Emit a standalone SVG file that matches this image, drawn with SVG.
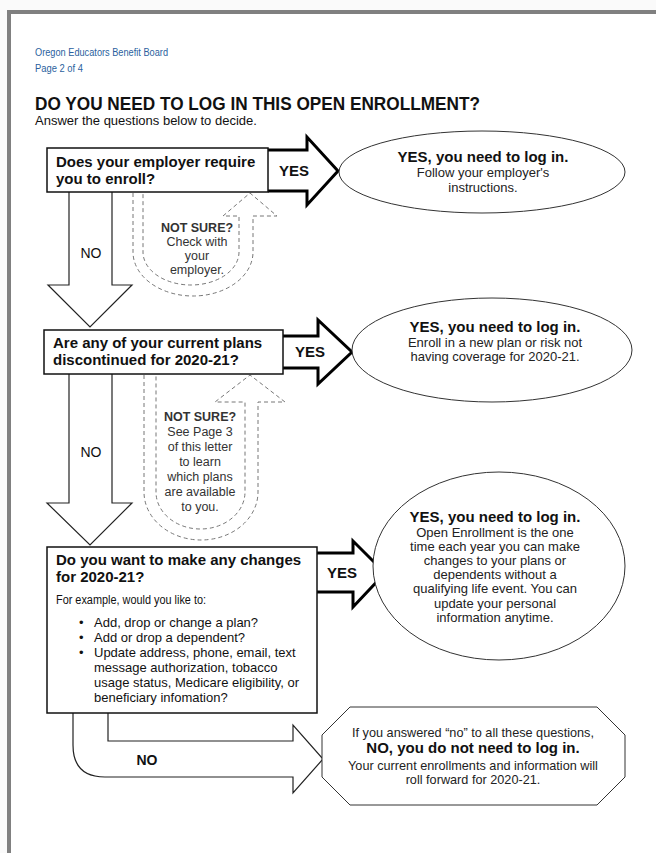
<svg xmlns="http://www.w3.org/2000/svg" width="656" height="853" viewBox="0 0 656 853">
<style>
text{font-family:"Liberation Sans",Arial,sans-serif;fill:#111}
.hdr{font-size:10.5px;fill:#2b5f9e}
.q{font-size:15px;font-weight:bold}
.body{font-size:13px}
.yes{font-size:15px;font-weight:bold;text-anchor:middle}
.no{font-size:14px;text-anchor:middle}
.et{font-size:15px;font-weight:bold;text-anchor:middle}
.eb{font-size:13px;text-anchor:middle;fill:#222}
.ob{font-size:12.7px;text-anchor:middle;fill:#222}
.ns{font-size:12.5px;text-anchor:middle;fill:#333}
.box{fill:#fff;stroke:#111;stroke-width:1.5}
.yarrow{fill:#fff;stroke:#000;stroke-width:3;stroke-linejoin:miter}
.narrow{fill:#fff;stroke:#222;stroke-width:1.2}
.dash{fill:none;stroke:#777;stroke-width:1;stroke-dasharray:4 3}
.ell{fill:#fff;stroke:#333;stroke-width:1}
</style>
<rect x="0" y="0" width="656" height="853" fill="#fafafa"/>
<rect x="9" y="12" width="647" height="841" fill="#fff"/>
<rect x="7" y="10" width="649" height="4" fill="#808080"/>
<rect x="7" y="10" width="4" height="843" fill="#808080"/>

<g id="header">
<text class="hdr" x="35" y="56" textLength="133" lengthAdjust="spacingAndGlyphs">Oregon Educators Benefit Board</text>
<text class="hdr" x="35" y="72" textLength="48" lengthAdjust="spacingAndGlyphs">Page 2 of 4</text>
<text x="35" y="110" font-size="18" font-weight="bold" textLength="445" lengthAdjust="spacingAndGlyphs">DO YOU NEED TO LOG IN THIS OPEN ENROLLMENT?</text>
<text x="35" y="125" font-size="13">Answer the questions below to decide.</text>
</g>

<g id="connectors">
<path class="yarrow" d="M268,150 H307 V137 L338,171 L307,205 V191 H268"/>
<text class="yes" x="294" y="176">YES</text>
<path class="yarrow" d="M283,336 H318 V320 L352,352 L318,384 V368 H283"/>
<text class="yes" x="310" y="357">YES</text>
<path class="yarrow" d="M317,553 H353 V541 L385,573 L353,607 V592 H317"/>
<text class="yes" x="342" y="578">YES</text>
<path class="narrow" d="M69,192 V285 H48 L90,327 L132,285 H112 V192"/>
<text class="no" x="91" y="258">NO</text>
<path class="narrow" d="M69,374 V503 H47 L90,545 L132,503 H112 V374"/>
<text class="no" x="91" y="457">NO</text>
<path class="narrow" d="M73,713 V745 Q73,777 105,777 H293 V793 L323,759 L293,725 V741 H108 V713"/>
<text x="147" y="765" font-size="14" font-weight="bold" text-anchor="middle">NO</text>
<path class="dash" d="M133,193 V252 A60,44 0 0 0 253,252 V216 H277 L250,193 L223,216 H239 V252 A48,33 0 0 1 143,252 V193"/>
<text class="ns" x="197" y="232" font-weight="bold">NOT SURE?</text>
<text class="ns" x="197" y="246">Check with</text>
<text class="ns" x="197" y="260">your</text>
<text class="ns" x="197" y="274">employer.</text>
<path class="dash" d="M144,375 V492 A57,48 0 0 0 258,492 V402 H285 L250,375 L215,402 H245 V492 A44.5,37 0 0 1 156,492 V375"/>
<text class="ns" x="200" y="421" font-weight="bold">NOT SURE?</text>
<text class="ns" x="200" y="436">See Page 3</text>
<text class="ns" x="200" y="451">of this letter</text>
<text class="ns" x="200" y="466">to learn</text>
<text class="ns" x="200" y="481">which plans</text>
<text class="ns" x="200" y="496">are available</text>
<text class="ns" x="200" y="511">to you.</text>
</g>

<g id="q1">
<rect class="box" x="47" y="148" width="221" height="44"/>
<text class="q" x="56" y="167">Does your employer require</text>
<text class="q" x="56" y="184">you to enroll?</text>
</g>

<g id="q2">
<rect class="box" x="44" y="330" width="239" height="44"/>
<text class="q" x="53" y="348">Are any of your current plans</text>
<text class="q" x="53" y="365">discontinued for 2020-21?</text>
</g>

<g id="q3">
<rect class="box" x="47" y="547" width="270" height="166"/>
<text class="q" x="56" y="565">Do you want to make any changes</text>
<text class="q" x="56" y="582">for 2020-21?</text>
<text x="56" y="604" font-size="12" textLength="150" lengthAdjust="spacingAndGlyphs">For example, would you like to:</text>
<text class="body" x="79" y="627">•</text>
<text class="body" x="94" y="627">Add, drop or change a plan?</text>
<text class="body" x="79" y="642">•</text>
<text class="body" x="94" y="642">Add or drop a dependent?</text>
<text class="body" x="79" y="657">•</text>
<text class="body" x="94" y="657">Update address, phone, email, text</text>
<text class="body" x="94" y="672">message authorization, tobacco</text>
<text class="body" x="94" y="687">usage status, Medicare eligibility, or</text>
<text class="body" x="94" y="702">beneficiary infomation?</text>
</g>

<g id="yes1">
<ellipse class="ell" cx="482" cy="172" rx="143" ry="41"/>
<text class="et" x="483" y="162">YES, you need to log in.</text>
<text class="eb" x="483" y="177">Follow your employer's</text>
<text class="eb" x="483" y="192">instructions.</text>
</g>

<g id="yes2">
<ellipse class="ell" cx="492" cy="350" rx="140" ry="52"/>
<text class="et" x="495" y="332">YES, you need to log in.</text>
<text class="eb" x="495" y="347" font-size="12.5">Enroll in a new plan or risk not</text>
<text class="eb" x="495" y="361" font-size="12.5">having coverage for 2020-21.</text>
</g>

<g id="yes3">
<ellipse class="ell" cx="499" cy="566" rx="126" ry="94"/>
<text class="et" x="495" y="522">YES, you need to log in.</text>
<text class="eb" x="495" y="537">Open Enrollment is the one</text>
<text class="eb" x="495" y="551">time each year you can make</text>
<text class="eb" x="495" y="565">changes to your plans or</text>
<text class="eb" x="495" y="579">dependents without a</text>
<text class="eb" x="495" y="593">qualifying life event. You can</text>
<text class="eb" x="495" y="608">update your personal</text>
<text class="eb" x="495" y="622">information anytime.</text>
</g>

<g id="no-final">
<polygon fill="#fff" stroke="#333" stroke-width="1" points="350,707 597,707 625,735 625,777 597,805 350,805 322,777 322,735"/>
<text class="ob" x="473" y="737">If you answered “no” to all these questions,</text>
<text class="et" x="473" y="753">NO, you do not need to log in.</text>
<text class="ob" x="473" y="770">Your current enrollments and information will</text>
<text class="ob" x="473" y="784">roll forward for 2020-21.</text>
</g>
</svg>
